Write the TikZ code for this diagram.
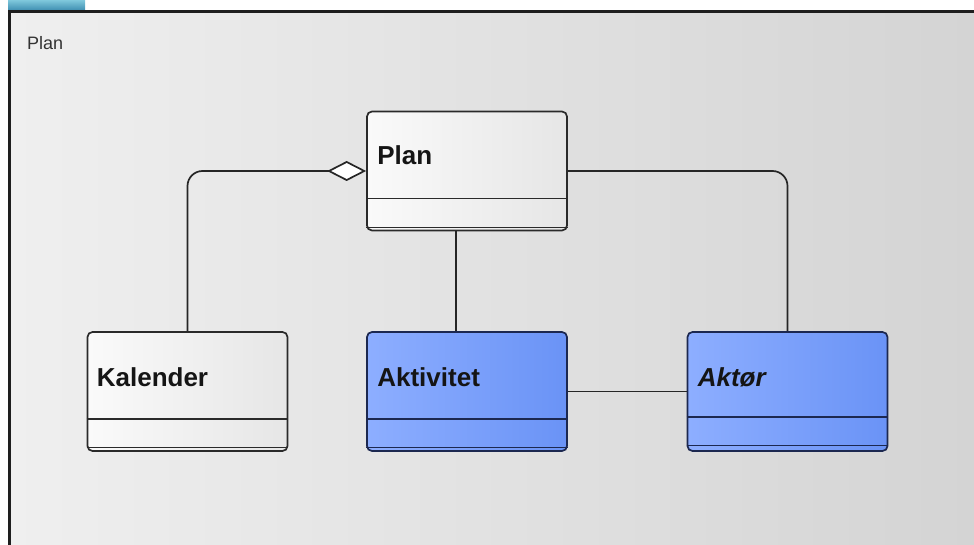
\documentclass[tikz,border=0pt]{standalone}
\usepackage{fontspec}
\setmainfont{Liberation Sans}
\usetikzlibrary{arrows.meta,positioning}
\begin{document}
\begin{tikzpicture}[x=1pt,y=-1pt,
    klasse/.style={draw=#1, line width=1.7pt, rounded corners=5pt, minimum width=200pt, minimum height=119pt, inner sep=0pt},
    hvit/.style={klasse=lineW, left color=wA, right color=wB},
    blaa/.style={klasse=lineB, left color=bA, right color=bB},
    navn/.style={anchor=base west, inner sep=0pt, text=txtC, font=\fontsize{26}{30}\selectfont\bfseries},
    skille/.style={draw=#1, line width=1.5pt},
    forb/.style={draw=black!85, line width=1.7pt}]
            \definecolor{bgA}{HTML}{EFEFEF}
            \definecolor{bgB}{HTML}{D4D4D4}
            \definecolor{tabA}{HTML}{7FC8DC}
            \definecolor{tabB}{HTML}{3A8AAE}
            \definecolor{frameC}{HTML}{1E1E1E}
            \definecolor{wA}{HTML}{FAFAFA}
            \definecolor{wB}{HTML}{E6E6E6}
            \definecolor{bA}{HTML}{8DAEFF}
            \definecolor{bB}{HTML}{6A93F6}
            \definecolor{lineW}{HTML}{2A2A2A}
            \definecolor{lineB}{HTML}{1C2850}
            \definecolor{txtC}{HTML}{151515}
            \useasboundingbox (0,0) rectangle (974,545);
            % ramme
            \shade[left color=bgA, right color=bgB] (8,12) rectangle (974,545);
            \shade[top color=tabA, bottom color=tabB] (8,0) rectangle (85,11);
            \draw[line width=3pt, draw=frameC] (974,12) -| (9,545);
            \node[anchor=base west, inner sep=0pt, text=black!80, font=\fontsize{18}{20}\selectfont] (ramme) at (27,50) {Plan};
            % klasser
            \node[hvit] (plan)  at (467,171)   {};
            \node[hvit] (kal)   at (187.5,391.5) {};
            \node[blaa] (akt)   at (467,391.5) {};
            \node[blaa] (aktor) at (787.5,391.5) {};
            \node[navn] (plantxt)  at ([shift={(11pt,-54pt)}]plan.north west)  {Plan};
            \node[navn] (kaltxt)   at ([shift={(10pt,-55pt)}]kal.north west)   {Kalender};
            \node[navn] (akttxt)   at ([shift={(11pt,-55pt)}]akt.north west)   {Aktivitet};
            \node[navn, font=\fontsize{26}{30}\selectfont\bfseries\itshape] (aktortxt) at ([shift={(11pt,-55pt)}]aktor.north west) {Aktør};
            \draw[skille=lineW] ([yshift=33pt]plan.south west) -- ([yshift=33pt]plan.south east);
            \draw[skille=lineW] ([yshift=33pt]kal.south west)  -- ([yshift=33pt]kal.south east);
            \draw[skille=lineB] ([yshift=33pt]akt.south west)  -- ([yshift=33pt]akt.south east);
            \draw[skille=lineB] ([yshift=35pt]aktor.south west) -- ([yshift=35pt]aktor.south east);
            \draw[skille=lineW, line width=1pt] ([yshift=4pt]plan.south west) -- ([yshift=4pt]plan.south east);
            \draw[skille=lineW, line width=1pt] ([yshift=4pt]kal.south west)  -- ([yshift=4pt]kal.south east);
            \draw[skille=lineB, line width=1pt] ([yshift=4pt]akt.south west)  -- ([yshift=4pt]akt.south east);
            \draw[skille=lineB, line width=1pt] ([yshift=6pt]aktor.south west) -- ([yshift=6pt]aktor.south east);
            % forbindelser
            \draw[forb, rounded corners=15pt, -{Diamond[fill=white, length=39pt, width=20pt]}] (kal.north) |- (plan.west);
            \draw[forb, rounded corners=15pt] (plan.east) -| (aktor.north);
            \draw[forb] ([xshift=-11pt]plan.south) -- ([xshift=-11pt]akt.north);
            \draw[forb] (akt.east) -- (aktor.west);
\end{tikzpicture}
\end{document}
